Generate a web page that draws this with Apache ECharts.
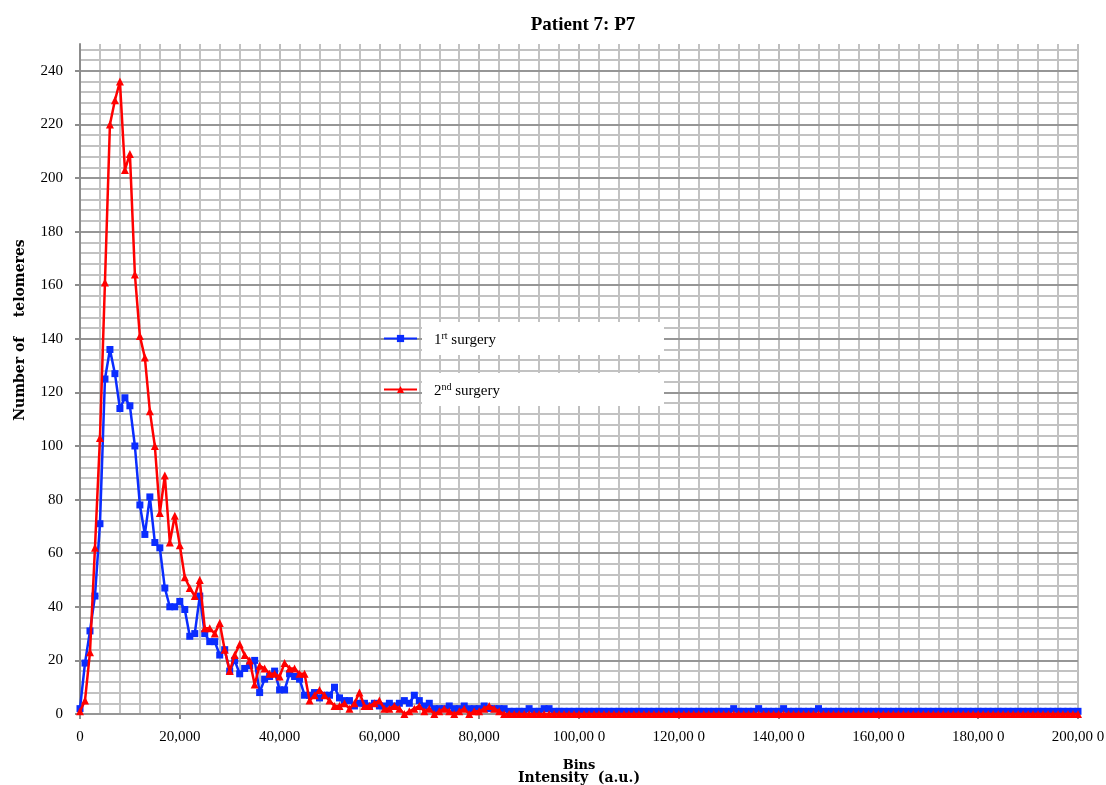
<!DOCTYPE html>
<html>
<head>
<meta charset="utf-8">
<script src="https://cdn.jsdelivr.net/npm/echarts@6/dist/echarts.min.js"></script>
<style>
  html, body { margin: 0; padding: 0; background: #fff; }
  #chart { width: 1106px; height: 785px; }
</style>
</head>
<body>
<div id="chart"></div>
<script>
// Intensity bins: 0 .. 200,000 in steps of 1,000 (a.u.)
const binWidth = 1000;

// Telomere counts per bin, first surgery
const firstSurgery = [
  2, 19, 31, 44, 71, 125, 136, 127, 114, 118,
  115, 100, 78, 67, 81, 64, 62, 47, 40, 40,
  42, 39, 29, 30, 44, 30, 27, 27, 22, 24,
  16, 20, 15, 17, 18, 20, 8, 13, 14, 16,
  9, 9, 15, 14, 13, 7, 7, 8, 6, 7,
  7, 10, 6, 5, 5, 3, 4, 4, 3, 4,
  3, 3, 4, 3, 4, 5, 4, 7, 5, 3,
  4, 2, 2, 2, 3, 2, 2, 3, 2, 2,
  2, 3, 2, 2, 2, 2, 1, 1, 1, 1,
  2, 1, 1, 2, 2, 1, 1, 1, 1, 1,
  1, 1, 1, 1, 1, 1, 1, 1, 1, 1,
  1, 1, 1, 1, 1, 1, 1, 1, 1, 1,
  1, 1, 1, 1, 1, 1, 1, 1, 1, 1,
  1, 2, 1, 1, 1, 1, 2, 1, 1, 1,
  1, 2, 1, 1, 1, 1, 1, 1, 2, 1,
  1, 1, 1, 1, 1, 1, 1, 1, 1, 1,
  1, 1, 1, 1, 1, 1, 1, 1, 1, 1,
  1, 1, 1, 1, 1, 1, 1, 1, 1, 1,
  1, 1, 1, 1, 1, 1, 1, 1, 1, 1,
  1, 1, 1, 1, 1, 1, 1, 1, 1, 1,
  1
];

// Telomere counts per bin, second surgery
const secondSurgery = [
  1, 5, 23, 62, 103, 161, 220, 229, 236, 203,
  209, 164, 141, 133, 113, 100, 75, 89, 64, 74,
  63, 51, 47, 44, 50, 32, 32, 30, 34, 24,
  16, 22, 26, 22, 20, 11, 18, 17, 15, 15,
  14, 19, 17, 17, 15, 15, 5, 7, 9, 7,
  5, 3, 3, 4, 2, 4, 8, 3, 3, 4,
  5, 2, 2, 3, 2, 0, 1, 2, 3, 1,
  2, 0, 1, 2, 1, 0, 1, 2, 0, 1,
  1, 2, 3, 2, 1, 0, 0, 0, 0, 0,
  0, 0, 0, 0, 0, 0, 0, 0, 0, 0,
  0, 0, 0, 0, 0, 0, 0, 0, 0, 0,
  0, 0, 0, 0, 0, 0, 0, 0, 0, 0,
  0, 0, 0, 0, 0, 0, 0, 0, 0, 0,
  0, 0, 0, 0, 0, 0, 0, 0, 0, 0,
  0, 0, 0, 0, 0, 0, 0, 0, 0, 0,
  0, 0, 0, 0, 0, 0, 0, 0, 0, 0,
  0, 0, 0, 0, 0, 0, 0, 0, 0, 0,
  0, 0, 0, 0, 0, 0, 0, 0, 0, 0,
  0, 0, 0, 0, 0, 0, 0, 0, 0, 0,
  0, 0, 0, 0, 0, 0, 0, 0, 0, 0,
  0
];

// Tick labels along the intensity axis (every 20,000)
const xTickLabels = ['0', '20,000', '40,000', '60,000', '80,000', '100,00 0',
  '120,00 0', '140,00 0', '160,00 0', '180,00 0', '200,00 0'];

const seriesNames = ['1rt surgery', '2nd surgery'];

const serif = '"Liberation Serif", "DejaVu Serif", serif';
const wideSerif = '"DejaVu Serif", serif';

function pairs(values) {
  return values.map((v, i) => [i * binWidth, v]);
}

const chart = echarts.init(document.getElementById('chart'), null, { renderer: 'canvas' });

chart.setOption({
  backgroundColor: '#ffffff',
  animation: false,
  title: {
    text: 'Patient 7: P7',
    left: 578,
    textAlign: 'center',
    top: 11,
    textStyle: { fontFamily: serif, fontWeight: 'bold', fontSize: 19, color: '#000' }
  },
  grid: { left: 80, right: 28, top: 44, bottom: 71, containLabel: false, outerBoundsMode: 'none' },
  legend: {
    orient: 'vertical',
    left: 383,
    top: 322,
    padding: 0,
    itemGap: 18,
    itemWidth: 33,
    itemHeight: 9,
    data: seriesNames,
    formatter: function (name) {
      return name === seriesNames[0] ? '1{sup|rt} surgery' : '2{sup|nd} surgery';
    },
    textStyle: {
      fontFamily: serif,
      fontSize: 15,
      color: '#000',
      backgroundColor: '#ffffff',
      width: 230,
      height: 17,
      padding: [9, 0, 7, 12],
      rich: {
        sup: { fontFamily: serif, fontSize: 10, color: '#000', padding: [0, 0, 8, 0] }
      }
    }
  },
  graphic: [
    {
      type: 'text',
      x: 20,
      y: 330,
      rotation: Math.PI / 2,
      style: {
        text: 'Number of    telomeres',
        fontFamily: wideSerif,
        fontWeight: 'bold',
        fontSize: 14,
        fill: '#000',
        textAlign: 'center',
        textVerticalAlign: 'middle'
      }
    }
  ],
  xAxis: {
    type: 'value',
    min: 0,
    max: 200000,
    interval: 20000,
    name: '{a|Bins}\n{b|Intensity  (a.u.)}',
    nameLocation: 'middle',
    nameGap: 46,
    nameTextStyle: {
      rich: {
        a: { fontFamily: wideSerif, fontWeight: 'bold', fontSize: 13, color: '#000', lineHeight: 12 },
        b: { fontFamily: wideSerif, fontWeight: 'bold', fontSize: 14, color: '#000', lineHeight: 12 }
      }
    },
    axisLine: { show: true, lineStyle: { color: '#8c8c8c', width: 2 } },
    axisTick: { show: true, length: 5, lineStyle: { color: '#8c8c8c', width: 2 } },
    minorTick: { show: false, splitNumber: 5 },
    axisLabel: {
      margin: 16,
      fontFamily: serif,
      fontSize: 15,
      color: '#000',
      formatter: function (v) { return xTickLabels[Math.round(v / 20000)]; }
    },
    splitLine: { show: true, lineStyle: { color: '#bdbdbd', width: 2 } },
    minorSplitLine: { show: true, lineStyle: { color: '#c2c2c2', width: 2 } }
  },
  yAxis: [
    {
      // counts axis with labelled major lines every 20
      type: 'value',
      min: 0,
      max: 250,
      interval: 20,
      z: 2,
      axisLine: { show: true, lineStyle: { color: '#8c8c8c', width: 2 } },
      axisTick: { show: true, length: 5, lineStyle: { color: '#8c8c8c', width: 2 } },
      axisLabel: { margin: 17, fontFamily: serif, fontSize: 15, color: '#000', showMaxLabel: false },
      splitLine: { show: true, showMaxLine: false, lineStyle: { color: '#969696', width: 2 } }
    },
    {
      // unlabelled fine grid every 4 counts
      type: 'value',
      min: 0,
      max: 250,
      interval: 4,
      z: 1,
      position: 'left',
      axisLine: { show: false },
      axisTick: { show: false },
      axisLabel: { show: false },
      splitLine: { show: true, showMinLine: false, showMaxLine: false, lineStyle: { color: '#c2c2c2', width: 2 } }
    }
  ],
  series: [
    {
      name: seriesNames[0],
      type: 'line',
      data: pairs(firstSurgery),
      symbol: 'rect',
      symbolSize: 7,
      showAllSymbol: true,
      lineStyle: { color: '#0a2cff', width: 2.5 },
      itemStyle: { color: '#0a2cff' },
      z: 3
    },
    {
      name: seriesNames[1],
      type: 'line',
      data: pairs(secondSurgery),
      symbol: 'triangle',
      symbolSize: 8,
      showAllSymbol: true,
      lineStyle: { color: '#ff0000', width: 2.5 },
      itemStyle: { color: '#ff0000' },
      z: 4
    }
  ]
});
</script>
</body>
</html>
